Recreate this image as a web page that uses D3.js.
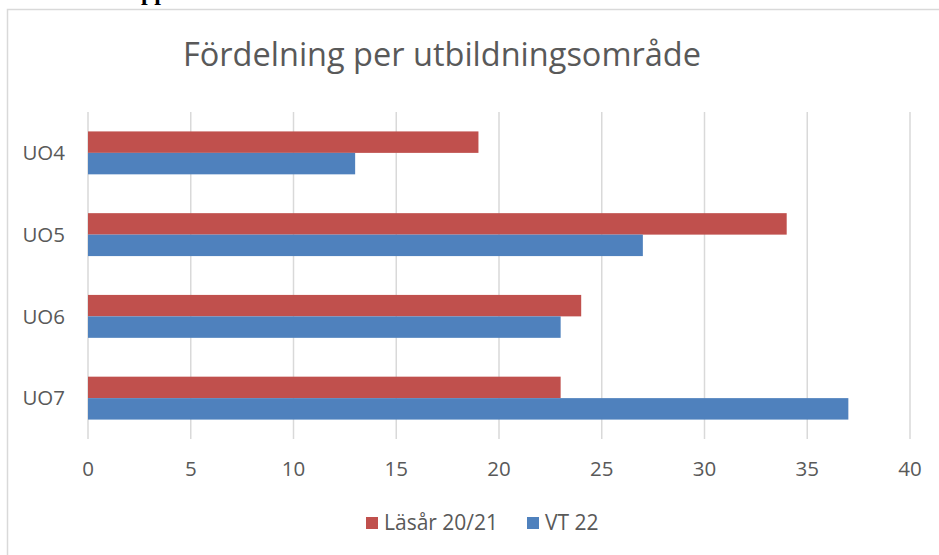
<!DOCTYPE html>
<html>
<head>
<meta charset="utf-8">
<script src="https://cdn.jsdelivr.net/npm/d3@7"></script>
<style>
  body { margin: 0; background: #fff; }
  svg { display: block; font-family: "Open Sans", "Liberation Sans", sans-serif; }
</style>
</head>
<body>
<svg id="chart" width="939" height="555"></svg>
<script>
var categories = ["UO4", "UO5", "UO6", "UO7"];
var seriesNames = ["Läsår 20/21", "VT 22"];
var lasar = [19, 34, 24, 23];
var vt22 = [13, 27, 23, 37];
var xTicks = [0, 5, 10, 15, 20, 25, 30, 35, 40];
var colors = ["#c0504d", "#4f81bd"];

var svg = d3.select("#chart"),
    width = 939,
    height = 555;

// cut-off text from the page above the chart
svg.append("text")
  .attr("x", 141).attr("y", 0)
  .style("font-family", "Liberation Serif")
  .style("font-size", 24)
  .style("font-weight", "bold")
  .style("fill", "#000")
  .text("pp");

// chart area border
svg.append("rect")
  .attr("x", 7.5).attr("y", 9.5)
  .attr("width", 1000).attr("height", 600)
  .attr("fill", "none")
  .attr("stroke", "#d9d9d9")
  .attr("stroke-width", 1.5);

svg.append("text")
  .attr("x", 442).attr("y", 66)
  .attr("text-anchor", "middle")
  .style("font-size", 32.5)
  .style("fill", "#595959")
  .text("Fördelning per utbildningsområde");

var x = d3.scaleLinear().domain([0, 40]).range([88, 910]);
var y = d3.scaleBand().domain(categories).range([112, 439]).paddingInner(0.475).paddingOuter(0.2375);
var sub = d3.scaleBand().domain([0, 1]).range([0, y.bandwidth()]);

// gridlines
svg.append("g")
  .selectAll("line")
  .data(xTicks)
  .enter()
  .append("line")
  .attr("x1", function(d) { return x(d); })
  .attr("x2", function(d) { return x(d); })
  .attr("y1", 112)
  .attr("y2", 439)
  .attr("stroke", "#d9d9d9")
  .attr("stroke-width", 1.5);

var rows = categories.map(function(c, i) { return {cat: c, vals: [lasar[i], vt22[i]]}; });

var groups = svg.append("g")
  .selectAll("g")
  .data(rows)
  .enter()
  .append("g")
  .attr("transform", function(d) { return "translate(0," + y(d.cat) + ")"; });

groups.selectAll("rect")
  .data(function(d) { return d.vals; })
  .enter()
  .append("rect")
  .attr("x", x(0))
  .attr("y", function(d, i) { return sub(i); })
  .attr("width", function(d) { return x(d) - x(0); })
  .attr("height", sub.bandwidth())
  .attr("fill", function(d, i) { return colors[i]; });

// x tick labels
svg.append("g")
  .selectAll("text")
  .data(xTicks)
  .enter()
  .append("text")
  .attr("x", function(d) { return x(d); })
  .attr("y", 476)
  .attr("text-anchor", "middle")
  .style("font-size", 20.5)
  .style("fill", "#595959")
  .text(function(d) { return d; });

// category labels
svg.append("g")
  .selectAll("text")
  .data(categories)
  .enter()
  .append("text")
  .attr("x", 65)
  .attr("y", function(d) { return y(d) + y.bandwidth() / 2; })
  .attr("dy", "0.35em")
  .attr("text-anchor", "end")
  .style("font-size", 20.5)
  .style("fill", "#595959")
  .text(function(d) { return d; });

// legend
var legendX = [366, 527];
var legend = svg.append("g")
  .selectAll("g")
  .data(seriesNames)
  .enter()
  .append("g")
  .attr("transform", function(d, i) { return "translate(" + legendX[i] + ",517)"; });

legend.append("rect")
  .attr("width", 12).attr("height", 12)
  .attr("fill", function(d, i) { return colors[i]; });

legend.append("text")
  .attr("x", 18).attr("y", 6)
  .attr("dy", "0.35em")
  .style("font-size", 21)
  .style("fill", "#595959")
  .text(function(d) { return d; });
</script>
</body>
</html>
